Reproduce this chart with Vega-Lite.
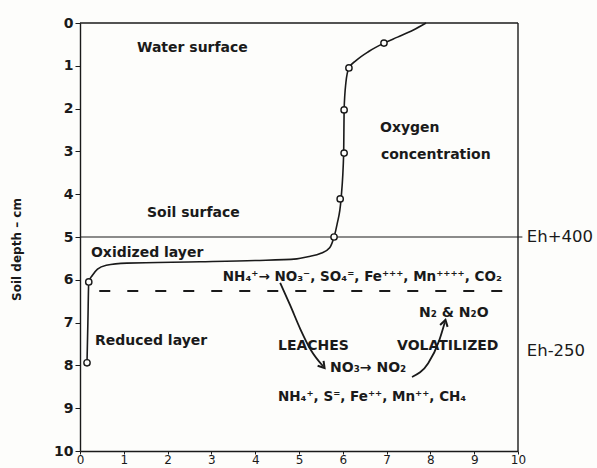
{
  "$schema": "https://vega.github.io/schema/vega-lite/v6.json",
  "autosize": "none",
  "width": 438,
  "height": 428,
  "padding": {"left": 80, "top": 23, "right": 79, "bottom": 17},
  "background": "#fdfdfb",
  "config": {
    "view": {"stroke": null},
    "font": "DejaVu Sans",
    "text": {"font": "DejaVu Sans", "fontWeight": "bold", "fontSize": 14, "color": "#1a1a1a", "align": "left", "baseline": "middle"}
  },
  "datasets": {
    "oxygen": [
      {"o": 1, "x": 7.9, "d": 0.0},
      {"o": 2, "x": 7.6, "d": 0.17},
      {"o": 3, "x": 7.25, "d": 0.33},
      {"o": 4, "x": 6.94, "d": 0.47},
      {"o": 5, "x": 6.6, "d": 0.66},
      {"o": 6, "x": 6.3, "d": 0.88},
      {"o": 7, "x": 6.14, "d": 1.05},
      {"o": 8, "x": 6.07, "d": 1.4},
      {"o": 9, "x": 6.03, "d": 2.03},
      {"o": 10, "x": 6.02, "d": 3.04},
      {"o": 11, "x": 5.96, "d": 4.11},
      {"o": 12, "x": 5.87, "d": 4.7},
      {"o": 13, "x": 5.8, "d": 5.0},
      {"o": 14, "x": 5.7, "d": 5.25},
      {"o": 15, "x": 5.5, "d": 5.38},
      {"o": 16, "x": 5.2, "d": 5.46},
      {"o": 17, "x": 4.95, "d": 5.51},
      {"o": 18, "x": 4.0, "d": 5.55},
      {"o": 19, "x": 2.74, "d": 5.58},
      {"o": 20, "x": 1.07, "d": 5.61},
      {"o": 21, "x": 0.6, "d": 5.66},
      {"o": 22, "x": 0.4, "d": 5.75},
      {"o": 23, "x": 0.28, "d": 5.9},
      {"o": 24, "x": 0.2, "d": 6.05},
      {"o": 25, "x": 0.18, "d": 7.0},
      {"o": 26, "x": 0.16, "d": 7.94}
    ],
    "samples": [
      {"x": 6.94, "d": 0.47},
      {"x": 6.14, "d": 1.05},
      {"x": 6.03, "d": 2.03},
      {"x": 6.03, "d": 3.04},
      {"x": 5.94, "d": 4.11},
      {"x": 5.8, "d": 5.0},
      {"x": 0.2, "d": 6.05},
      {"x": 0.16, "d": 7.94}
    ],
    "labels": [
      {"x": 1.3, "d": 0.58, "t": "Water surface"},
      {"x": 1.53, "d": 4.44, "t": "Soil surface"},
      {"x": 0.25, "d": 5.37, "t": "Oxidized layer"},
      {"x": 0.34, "d": 7.43, "t": "Reduced layer"},
      {"x": 6.85, "d": 2.45, "t": "Oxygen"},
      {"x": 6.87, "d": 3.08, "t": "concentration"},
      {"x": 4.52, "d": 7.55, "t": "LEACHES"},
      {"x": 7.24, "d": 7.55, "t": "VOLATILIZED"},
      {"x": 5.71, "d": 8.06, "t": "NO₃→ NO₂"},
      {"x": 7.74, "d": 6.78, "t": "N₂ & N₂O"}
    ],
    "chem": [
      {"x": 3.26, "d": 5.93, "t": "NH₄⁺→ NO₃⁻, SO₄⁼, Fe⁺⁺⁺, Mn⁺⁺⁺⁺, CO₂"},
      {"x": 4.52, "d": 8.74, "t": "NH₄⁺, S⁼, Fe⁺⁺, Mn⁺⁺, CH₄"}
    ],
    "eh": [
      {"x": 10.2, "d": 5.0, "t": "Eh+400"},
      {"x": 10.2, "d": 7.66, "t": "Eh-250"}
    ],
    "arrows": [
      {"a": "leach", "o": 1, "x": 4.57, "d": 6.07},
      {"a": "leach", "o": 2, "x": 4.8, "d": 6.6},
      {"a": "leach", "o": 3, "x": 5.03, "d": 7.15},
      {"a": "leach", "o": 4, "x": 5.27, "d": 7.64},
      {"a": "leach", "o": 5, "x": 5.55, "d": 8.02},
      {"a": "vol", "o": 1, "x": 7.58, "d": 8.27},
      {"a": "vol", "o": 2, "x": 7.95, "d": 7.95},
      {"a": "vol", "o": 3, "x": 8.2, "d": 7.42},
      {"a": "vol", "o": 4, "x": 8.33, "d": 6.99}
    ],
    "heads": [
      {"x": 5.55, "d": 8.02, "ang": 140},
      {"x": 8.33, "d": 6.99, "ang": 15}
    ],
    "hlines": [
      {"x": 0, "x2": 10.1, "d": 5.0}
    ],
    "dash": [
      {"x": 0.44, "x2": 9.82, "d": 6.26}
    ],
    "frame": [
      {"x": 10, "d": 0, "d2": 10}
    ],
    "water": [
      {"x": 0, "x2": 10, "d": 0}
    ]
  },
  "encoding": {
    "x": {"type": "quantitative"},
    "y": {"type": "quantitative"}
  },
  "layer": [
    {
      "data": {"name": "water"},
      "mark": {"type": "rule", "color": "#1a1a1a", "strokeWidth": 1.6},
      "encoding": {
        "x": {"field": "x", "type": "quantitative", "scale": {"domain": [0, 10], "nice": false, "zero": false},
          "axis": {"values": [0,1,2,3,4,5,6,7,8,9,10], "grid": false, "title": null, "domainColor": "#1a1a1a", "domainWidth": 1.6, "tickColor": "#1a1a1a", "tickSize": 3, "labelPadding": 0, "labelFontSize": 12, "labelColor": "#1a1a1a", "labelFont": "DejaVu Sans", "labelFlush": false}},
        "x2": {"field": "x2"},
        "y": {"field": "d", "type": "quantitative", "scale": {"domain": [0, 10], "reverse": true, "nice": false, "zero": false},
          "axis": {"values": [0,1,2,3,4,5,6,7,8,9,10], "grid": false, "title": "Soil depth – cm", "titleFontSize": 12, "titleFontWeight": "bold", "titleColor": "#1a1a1a", "titleFont": "DejaVu Sans", "titlePadding": 30, "titleY": 226, "domainColor": "#1a1a1a", "domainWidth": 1.4, "tickColor": "#1a1a1a", "tickSize": 5, "labelPadding": 2, "labelFontSize": 14, "labelColor": "#1a1a1a", "labelFont": "DejaVu Sans", "labelFontWeight": "bold", "labelFlush": false}}
      }
    },
    {
      "data": {"name": "hlines"},
      "mark": {"type": "rule", "color": "#1a1a1a", "strokeWidth": 1.2, "clip": false},
      "encoding": {"x": {"field": "x", "type": "quantitative"}, "x2": {"field": "x2"}, "y": {"field": "d", "type": "quantitative"}}
    },
    {
      "data": {"name": "dash"},
      "mark": {"type": "rule", "color": "#1a1a1a", "strokeWidth": 2, "strokeDash": [11, 17]},
      "encoding": {"x": {"field": "x", "type": "quantitative"}, "x2": {"field": "x2"}, "y": {"field": "d", "type": "quantitative"}}
    },
    {
      "data": {"name": "frame"},
      "mark": {"type": "rule", "color": "#1a1a1a", "strokeWidth": 1.4},
      "encoding": {"x": {"field": "x", "type": "quantitative"}, "y": {"field": "d", "type": "quantitative"}, "y2": {"field": "d2"}}
    },
    {
      "data": {"name": "oxygen"},
      "mark": {"type": "line", "color": "#1a1a1a", "strokeWidth": 1.6, "interpolate": "monotone"},
      "encoding": {"x": {"field": "x", "type": "quantitative"}, "y": {"field": "d", "type": "quantitative"}, "order": {"field": "o"}}
    },
    {
      "data": {"name": "samples"},
      "mark": {"type": "point", "shape": "circle", "filled": true, "fill": "#fdfdfb", "stroke": "#1a1a1a", "strokeWidth": 1.4, "size": 40, "opacity": 1},
      "encoding": {"x": {"field": "x", "type": "quantitative"}, "y": {"field": "d", "type": "quantitative"}}
    },
    {
      "data": {"name": "arrows"},
      "mark": {"type": "line", "color": "#1a1a1a", "strokeWidth": 1.8, "interpolate": "monotone"},
      "encoding": {"x": {"field": "x", "type": "quantitative"}, "y": {"field": "d", "type": "quantitative"}, "detail": {"field": "a"}, "order": {"field": "o"}}
    },
    {
      "data": {"name": "heads"},
      "mark": {"type": "point", "shape": "M -1 1 L 0 -0.6 L 1 1", "filled": false, "stroke": "#1a1a1a", "strokeWidth": 2, "size": 60, "opacity": 1},
      "encoding": {"x": {"field": "x", "type": "quantitative"}, "y": {"field": "d", "type": "quantitative"}, "angle": {"field": "ang", "type": "quantitative", "scale": null}}
    },
    {
      "data": {"name": "labels"},
      "mark": {"type": "text"},
      "encoding": {"x": {"field": "x", "type": "quantitative"}, "y": {"field": "d", "type": "quantitative"}, "text": {"field": "t"}}
    },
    {
      "data": {"name": "chem"},
      "mark": {"type": "text", "fontSize": 13.5},
      "encoding": {"x": {"field": "x", "type": "quantitative"}, "y": {"field": "d", "type": "quantitative"}, "text": {"field": "t"}}
    },
    {
      "data": {"name": "eh"},
      "mark": {"type": "text", "fontSize": 16.5, "fontWeight": "normal", "clip": false},
      "encoding": {"x": {"field": "x", "type": "quantitative"}, "y": {"field": "d", "type": "quantitative"}, "text": {"field": "t"}}
    }
  ]
}
